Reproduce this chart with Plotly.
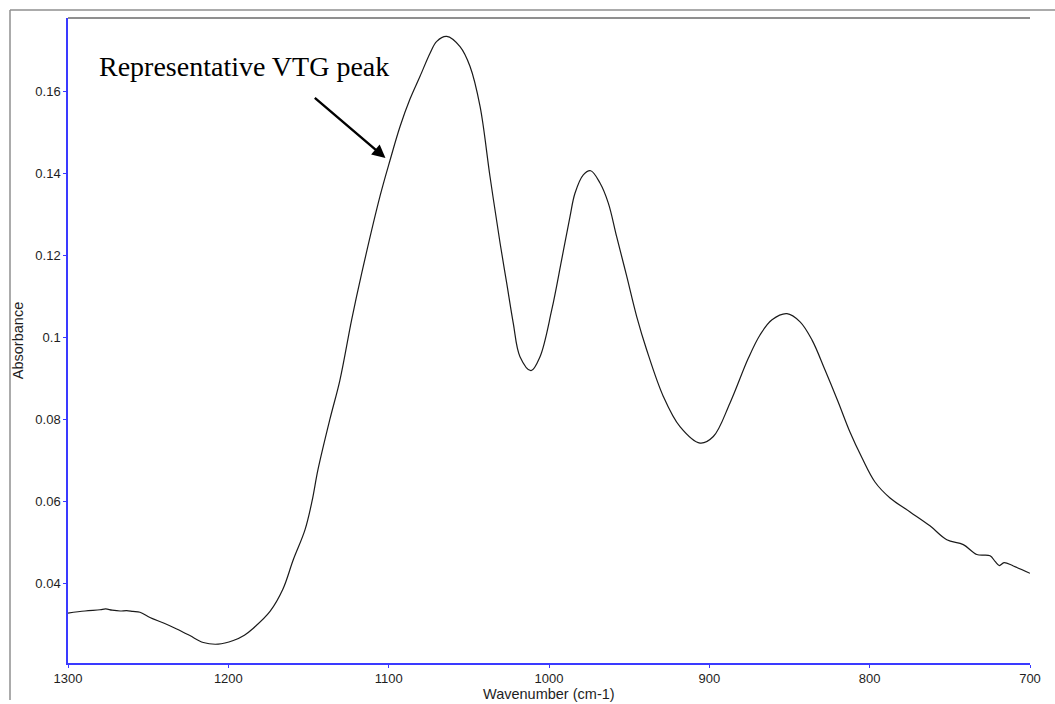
import plotly.graph_objects as go

# FTIR absorbance spectrum (wavenumber in cm-1, absorbance)
wavenumber = [
    1300.0, 1289.4, 1280.0, 1276.5, 1272.5, 1267.5, 1263.4, 1259.5, 1255.1, 1248.9,
    1240.0, 1232.2, 1224.0, 1215.6, 1206.3, 1196.9, 1190.0, 1184.4, 1174.0, 1166.0,
    1159.5, 1152.2, 1147.8, 1144.1, 1136.6, 1130.4, 1123.1, 1116.8, 1105.4, 1099.2,
    1092.9, 1086.7, 1080.5, 1074.2, 1070.0, 1063.8, 1055.5, 1049.3, 1043.0, 1036.8,
    1030.5, 1026.4, 1022.3, 1018.1, 1011.2, 1005.6, 998.3, 992.1, 986.9, 983.8,
    978.6, 974.0, 968.2, 963.0, 957.8, 951.5, 945.3, 939.1, 928.7, 918.3,
    905.8, 897.5, 887.1, 875.7, 868.4, 860.9, 851.6, 843.4, 836.0, 827.9,
    819.7, 812.3, 804.8, 796.7, 787.3, 774.8, 762.4, 751.9, 741.6, 733.2,
    724.9, 721.8, 719.1, 716.2, 710.4, 700.0,
]
absorbance = [
    0.0327, 0.0332, 0.0335, 0.0337, 0.0334, 0.0332, 0.0333, 0.0331, 0.0329, 0.0316,
    0.0302, 0.0288, 0.0272, 0.0255, 0.0251, 0.0260, 0.0273, 0.0290, 0.0331, 0.0385,
    0.0457, 0.0530, 0.0600, 0.0677, 0.0801, 0.0896, 0.1043, 0.1157, 0.1345, 0.1432,
    0.1515, 0.1582, 0.1637, 0.1694, 0.1723, 0.1735, 0.1710, 0.1662, 0.1564, 0.1393,
    0.1230, 0.1133, 0.1035, 0.0953, 0.0919, 0.0953, 0.1067, 0.1190, 0.1295, 0.1352,
    0.1397, 0.1407, 0.1377, 0.1328, 0.1246, 0.1149, 0.1051, 0.0970, 0.0856, 0.0782,
    0.0742, 0.0758, 0.0840, 0.0949, 0.1006, 0.1043, 0.1058, 0.1038, 0.0994, 0.0921,
    0.0843, 0.0769, 0.0706, 0.0647, 0.0608, 0.0574, 0.0540, 0.0506, 0.0494, 0.0470,
    0.0467, 0.0453, 0.0443, 0.0450, 0.0442, 0.0424,
]

x_ticks = [1300, 1200, 1100, 1000, 900, 800, 700]
y_ticks = [0.04, 0.06, 0.08, 0.10, 0.12, 0.14, 0.16]
y_tick_text = ["0.04", "0.06", "0.08", "0.1", "0.12", "0.14", "0.16"]

annotation_text = "Representative VTG peak"
arrow_tip = (1102.0, 0.1438)
arrow_tail = (1147.0, 0.1588)
label_pos = (1282.0, 0.1661)

AXIS_BLUE = "#3a3aff"
FRAME_GRAY = "#8f8f8f"
TEXT = "#1e1e1e"
SANS = "Liberation Sans, Arial"

fig = go.Figure()
fig.add_trace(go.Scatter(
    x=wavenumber, y=absorbance, mode="lines",
    line=dict(color="#1a1a1a", width=1.2),
    line_shape="spline", showlegend=False, hoverinfo="skip",
))

axis_common = dict(
    showgrid=False, zeroline=False, showline=True, automargin=False,
    linecolor=AXIS_BLUE, linewidth=1.5,
    ticks="outside", ticklen=3, tickwidth=1.2, tickcolor=AXIS_BLUE,
    tickfont=dict(family=SANS, size=13, color=TEXT),
)

fig.update_layout(
    width=1055, height=704,
    margin=dict(l=68, r=25, t=18, b=41),
    paper_bgcolor="white", plot_bgcolor="white",
    xaxis=dict(range=[1300, 700], tickvals=x_ticks, **axis_common),
    yaxis=dict(
        range=[0.0205, 0.178], tickvals=y_ticks, ticktext=y_tick_text,
        title=dict(text="Absorbance", standoff=8,
                   font=dict(family=SANS, size=14.5, color=TEXT)),
        **axis_common,
    ),
)

# x-axis title placed just under the tick labels
fig.add_annotation(
    x=0.5, y=-31 / 645, xref="paper", yref="paper",
    text="Wavenumber (cm-1)", showarrow=False, xanchor="center", yanchor="middle",
    font=dict(family=SANS, size=14.5, color=TEXT),
)

# gray top border of the plot box and outer frame
fig.add_shape(type="line", xref="paper", yref="paper", x0=0, x1=1, y0=1, y1=1,
              line=dict(color=FRAME_GRAY, width=2))
fig.add_shape(type="line", xref="paper", yref="paper",
              x0=-58 / 962, x1=1.1, y0=653 / 645, y1=653 / 645,
              line=dict(color=FRAME_GRAY, width=1.5))
fig.add_shape(type="line", xref="paper", yref="paper",
              x0=-58 / 962, x1=-58 / 962, y0=653 / 645, y1=-37 / 645,
              line=dict(color=FRAME_GRAY, width=1.5))

# callout label and arrow
fig.add_annotation(
    x=label_pos[0], y=label_pos[1], xref="x", yref="y",
    text=annotation_text, showarrow=False, xanchor="left", yanchor="middle",
    font=dict(family="Liberation Serif, Times New Roman", size=28, color="black"),
)
fig.add_annotation(
    x=arrow_tip[0], y=arrow_tip[1], xref="x", yref="y",
    ax=arrow_tail[0], ay=arrow_tail[1], axref="x", ayref="y",
    text="", showarrow=True, arrowhead=2, arrowsize=1.1, arrowwidth=2.4,
    arrowcolor="black",
)

fig.write_html("out.html")
